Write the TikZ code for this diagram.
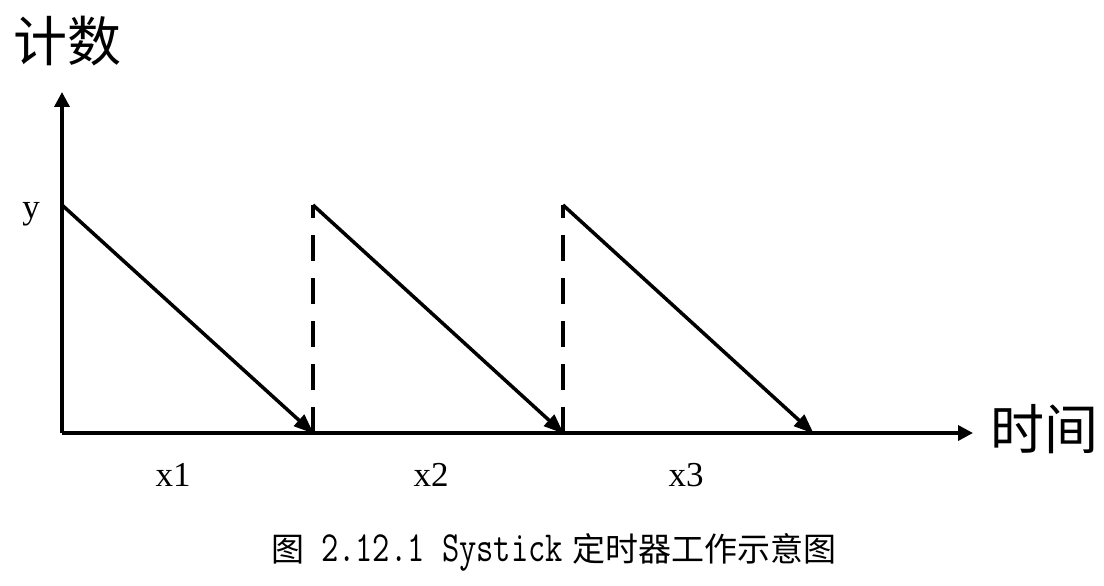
\documentclass[tikz,border=0pt]{standalone}
\usepackage{fontspec}
\setmainfont{Liberation Serif}
\newfontfamily\cjksans{Noto Sans CJK SC}
\usetikzlibrary{arrows.meta}
\begin{document}
\begin{tikzpicture}[x=1pt,y=-1pt,
  axis/.style={line width=3.5pt,-{Triangle[length=15pt,width=15pt]}},
  ramp/.style={line width=3.5pt,-{Triangle[length=20pt,width=15pt]},shorten >=-1pt},
  reset/.style={line width=3.5pt,dash pattern=on 26pt off 17pt},
  lbl/.style={inner sep=0pt,anchor=base,font=\fontsize{35}{40}\selectfont},
  cjklbl/.style={inner sep=0pt,anchor=base,font=\cjksans\fontsize{54}{60}\selectfont}]
\useasboundingbox (0,0) rectangle (1104,586);
\fill[white] (0,0) rectangle (1104,586);
\coordinate (o) at (62,433);
\coordinate (ytop) at (62,92);
\coordinate (xend) at (973,433);
\coordinate (t0) at (62,205);
\coordinate (b1) at (313,433);
\coordinate (t1) at (313,205);
\coordinate (b2) at (563,433);
\coordinate (t2) at (563,205);
\coordinate (b3) at (813,433);
\draw[axis] (o) -- (ytop);
\draw[axis] (o) -- (xend);
\draw[ramp] (t0) -- (b1);
\draw[ramp] (t1) -- (b2);
\draw[ramp] (t2) -- (b3);
\draw[reset] (b1) -- (t1);
\draw[reset] (b2) -- (t2);
\node[cjklbl] (ylab) at (67,62) {计数};
\node[cjklbl] (xlab) at (1044,449) {时间};
\node[lbl] (yv) at (31,218) {y};
\node[lbl] (x1) at (173,486) {x1};
\node[lbl] (x2) at (431,486) {x2};
\node[lbl] (x3) at (686,486) {x3};
\node[inner sep=0pt,anchor=base,font=\cjksans\fontsize{33}{36}\selectfont] (cap) at (554,561)
  {图\hspace{17pt}\scalebox{0.78}[1]{\ttfamily\fontsize{43}{48}\selectfont 2.12.1 Systick}\hspace{10pt}定时器工作示意图};
\end{tikzpicture}
\end{document}
